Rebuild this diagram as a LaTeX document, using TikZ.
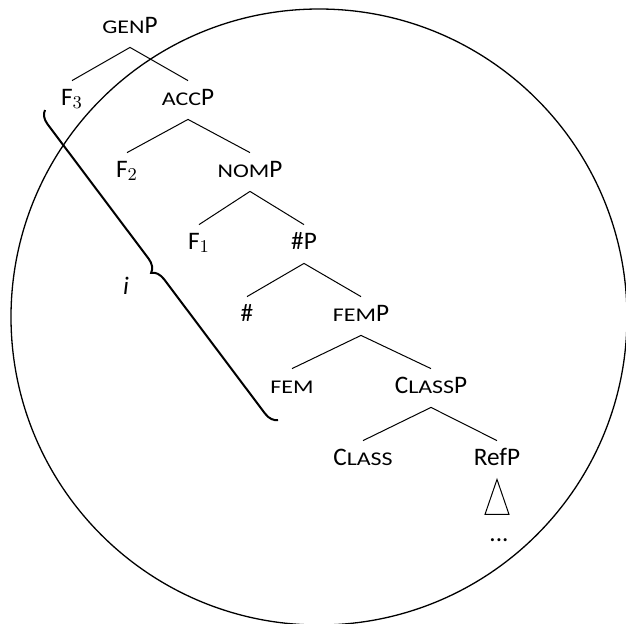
\documentclass[tikz,border=0pt]{standalone}
\usepackage{fontspec}
\usepackage{graphicx}
\setmainfont{Carlito}
\usetikzlibrary{decorations.pathreplacing}
\newcommand\mysc[1]{\scalebox{0.95}[0.77]{#1}}
\begin{document}
\begin{tikzpicture}[x=0.5pt,y=-0.5pt,
  lab/.style={inner sep=0pt, text height=12pt, text depth=7pt, font=\fontsize{12.6}{15}\selectfont},
  edge/.style={line width=0.5pt},
  bracestyle/.style={line width=1pt, decorate, decoration={brace, amplitude=6.5pt}}]
\useasboundingbox (0,0) rectangle (626,623);
\draw[line width=0.65pt] (319,317) circle[radius=154pt];
\node[lab] (gen) at (130,28) {\mysc{GEN}P};
\node[lab] (f3) at (72,100) {F$_3$};
\node[lab] (acc) at (188,100) {\mysc{ACC}P};
\node[lab] (f2) at (127,172) {F$_2$};
\node[lab] (nom) at (250,172) {\mysc{NOM}P};
\node[lab] (f1) at (199,244) {F$_1$};
\node[lab] (num) at (304,244) {\#P};
\node[lab] (hash) at (247,316) {\#};
\node[lab] (femp) at (361,316) {\mysc{FEM}P};
\node[lab] (fem) at (292,388) {\mysc{FEM}};
\node[lab] (classp) at (431,388) {C\mysc{LASS}P};
\node[lab] (class) at (363,460) {C\mysc{LASS}};
\node[lab] (refp) at (497,460) {RefP};
\draw[edge] (gen.south) -- (f3.north);
\draw[edge] (gen.south) -- (acc.north);
\draw[edge] (acc.south) -- (f2.north);
\draw[edge] (acc.south) -- (nom.north);
\draw[edge] (nom.south) -- (f1.north);
\draw[edge] (nom.south) -- (num.north);
\draw[edge] (num.south) -- (hash.north);
\draw[edge] (num.south) -- (femp.north);
\draw[edge] (femp.south) -- (fem.north);
\draw[edge] (femp.south) -- (classp.north);
\draw[edge] (classp.south) -- (class.north);
\draw[edge] (classp.south) -- (refp.north);
\draw[edge] (refp.south) -- ++(-12,35) -- ++(24,0) -- cycle;
\node[inner sep=0pt, anchor=base, font=\fontsize{12.6}{15}\selectfont] (dots) at (499,541) {...};
\coordinate (bt) at (45,110);
\coordinate (bb) at (278,420);
\draw[bracestyle] (bb) -- (bt);
\node[inner sep=0pt, anchor=base, font=\fontsize{12.6}{15}\selectfont\itshape] (ilab) at (126,294) {i};
\end{tikzpicture}
\end{document}
